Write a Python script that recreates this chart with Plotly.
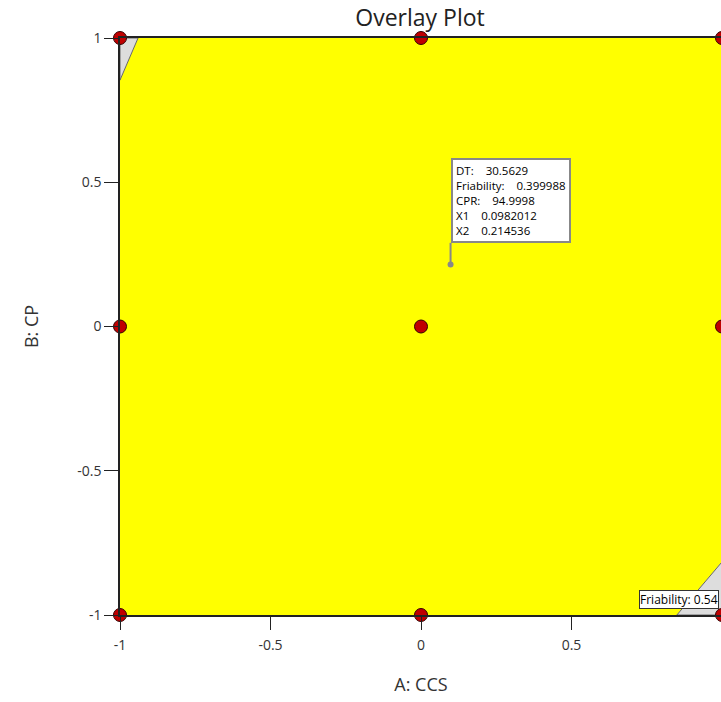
import plotly.graph_objects as go

# Design points (coded units)
design_A = [-1, 0, 1, -1, 0, 1, -1, 0, 1]
design_B = [1, 1, 1, 0, 0, 0, -1, -1, -1]

# Feasible (yellow) region boundary
region_A = [-0.94, 1.0, 1.0, 0.85, -1.0, -1.0, -0.94]
region_B = [1.0, 1.0, -0.816, -1.0, -1.0, 0.854, 1.0]

# Infeasible (grey) corners bounded by Friability contours
tl_A = [-1.0, -0.94, -1.0, -1.0]
tl_B = [1.0, 1.0, 0.854, 1.0]
br_A = [0.85, 1.0, 1.0, 0.85]
br_B = [-1.0, -0.816, -1.0, -1.0]

# Flag point
flag_A = 0.0982012
flag_B = 0.214536
flag_lines = [("DT:", "30.5629"), ("Friability:", "0.399988"), ("CPR:", "94.9998"),
              ("X1", "0.0982012"), ("X2", "0.214536")]

tick_vals = [-1, -0.5, 0, 0.5, 1]
tick_text = ["-1", "-0.5", "0", "0.5", "1"]

FONT = "Open Sans, Noto Sans, sans-serif"

fig = go.Figure()
fig.add_trace(go.Scatter(x=region_A, y=region_B, fill="toself", fillcolor="#FFFF00",
                         mode="lines", line=dict(color="#FFFF00", width=0),
                         hoverinfo="skip", showlegend=False))
for xa, yb in [(tl_A, tl_B), (br_A, br_B)]:
    fig.add_trace(go.Scatter(x=xa, y=yb, fill="toself", fillcolor="#DDDDDD",
                             mode="lines", line=dict(color="#666666", width=1),
                             hoverinfo="skip", showlegend=False))

# flag pole
fig.add_trace(go.Scatter(x=[flag_A, flag_A], y=[flag_B, 0.29], mode="lines",
                         line=dict(color="#888888", width=2), hoverinfo="skip",
                         showlegend=False))
fig.add_trace(go.Scatter(x=[flag_A], y=[flag_B], mode="markers",
                         marker=dict(size=6, color="#888888"), hoverinfo="skip",
                         showlegend=False))

fig.add_trace(go.Scatter(x=design_A, y=design_B, mode="markers", cliponaxis=False,
                         marker=dict(size=13, color="#C00000",
                                     line=dict(color="#330000", width=1)),
                         showlegend=False))

nb = "\u00a0"
flag_text = "<br>".join(f"{k}{nb*4}{v}" for k, v in flag_lines)
fig.add_annotation(x=flag_A, y=0.29, xref="x", yref="y", xanchor="left", yanchor="bottom",
                   text=flag_text, showarrow=False, align="left",
                   font=dict(family=FONT, size=11.5, color="#000"),
                   bgcolor="white", bordercolor="#888888", borderwidth=2, borderpad=3)

fig.add_annotation(x=0.723, y=-0.945, xref="x", yref="y", xanchor="left", yanchor="middle",
                   text="Friability: 0.54", showarrow=False,
                   font=dict(family=FONT, size=12, color="#000"),
                   bgcolor="white", bordercolor="#333333", borderwidth=1, borderpad=0)

fig.update_layout(
    width=724, height=702,
    margin=dict(l=120, r=0, t=38, b=87),
    paper_bgcolor="white", plot_bgcolor="white",
    font=dict(family=FONT, color="#333333"),
    title=dict(text="Overlay Plot", x=(120 + 300) / 724, xanchor="center",
               y=1 - 18 / 702, yanchor="middle", yref="container",
               font=dict(family=FONT, size=23, color="#222222")),
    xaxis=dict(range=[-1, 1], tickvals=tick_vals, ticktext=tick_text,
               showgrid=False, zeroline=False, showline=True, linecolor="#222222",
               linewidth=1.5, mirror=True, ticks="outside", ticklen=13,
               tickcolor="#222222", tickfont=dict(size=14, color="#333333"),
               ticklabelstandoff=3,
               title=dict(text="A: CCS", font=dict(size=18, color="#333333"), standoff=26)),
    yaxis=dict(range=[-1, 1], tickvals=tick_vals, ticktext=tick_text,
               showgrid=False, zeroline=False, showline=True, linecolor="#222222",
               linewidth=1.5, mirror=True, ticks="outside", ticklen=14,
               tickcolor="#222222", tickfont=dict(size=14, color="#333333"),
               ticklabelstandoff=0,
               title=dict(text="B: CP", font=dict(size=18, color="#333333"), standoff=34)),
)

fig.write_html("out.html")
